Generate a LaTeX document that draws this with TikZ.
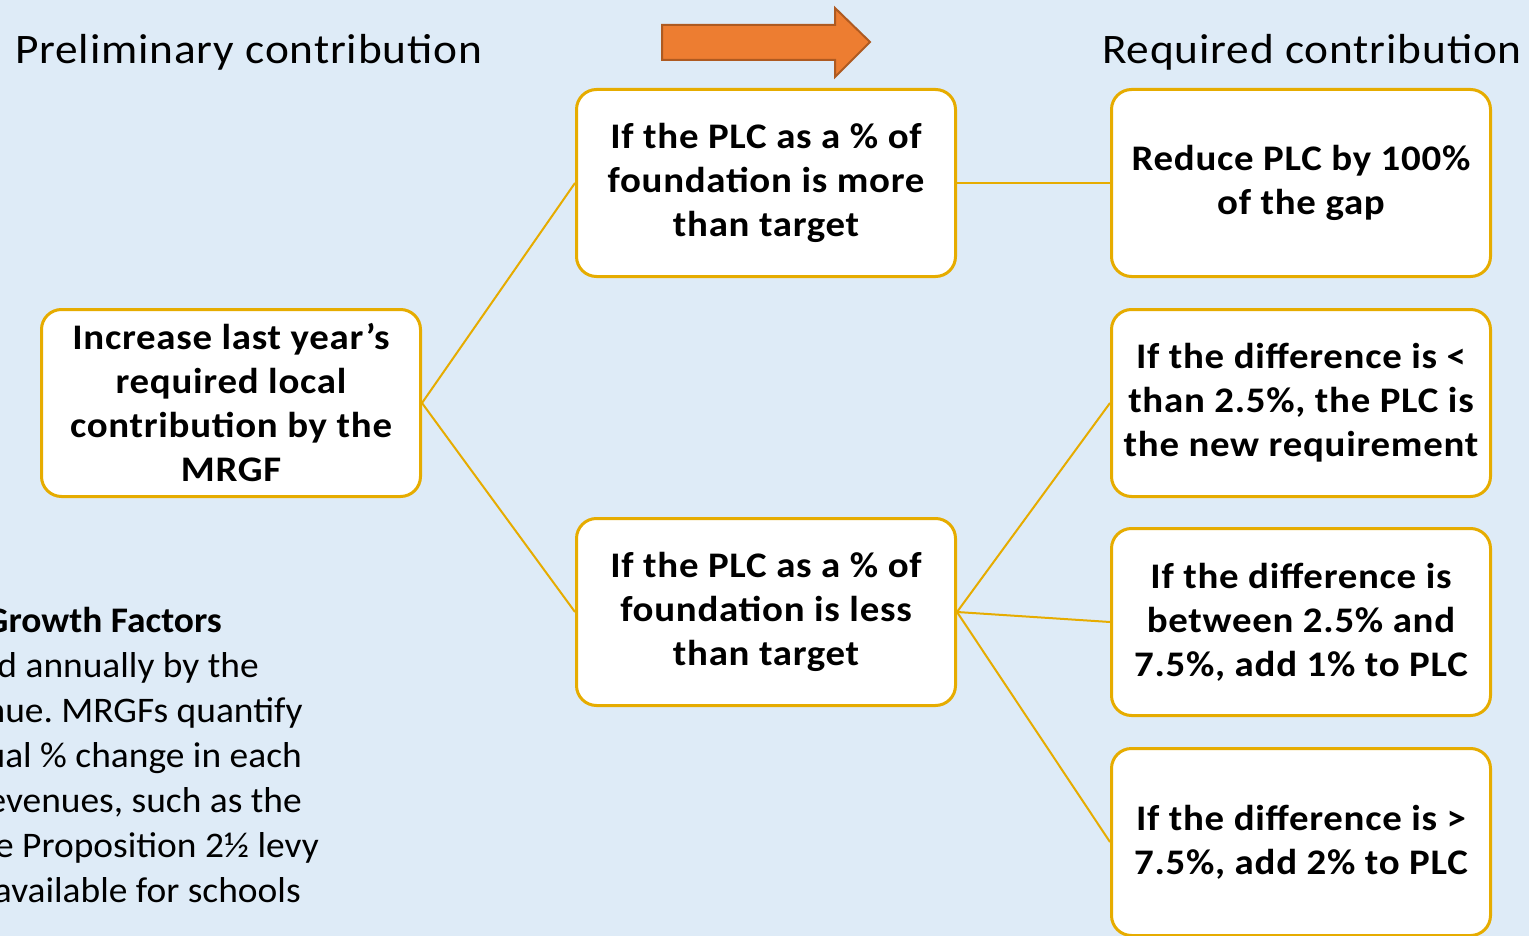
\documentclass[tikz,border=0pt]{standalone}
\usepackage{fontspec}
\setmainfont{Carlito}
\newfontfamily\widefont[FakeStretch=1.08, LetterSpace=2]{Carlito}
\newfontfamily\notefont[FakeStretch=1.04]{Carlito}
\usepackage{tikz}
\usetikzlibrary{positioning}
\frenchspacing

\definecolor{sky}{RGB}{222,235,247}
\definecolor{gold}{RGB}{230,172,0}
\definecolor{orangefill}{RGB}{237,125,49}
\definecolor{orangeline}{RGB}{174,90,33}

\tikzset{
	stepbox/.style={draw=gold, line width=3pt, rounded corners=20pt, fill=white,
		minimum width=379pt, minimum height=187pt, inner sep=0pt, align=center,
		font=\widefont\bfseries\fontsize{36}{44}\selectfont},
	link/.style={draw=gold, line width=2pt},
	heading/.style={inner sep=0pt, font=\widefont\fontsize{42}{50}\selectfont},
	note/.style={inner sep=0pt, font=\notefont\fontsize{36}{45}\selectfont}
}

\begin{document}
\begin{tikzpicture}[x=1pt,y=-1pt]
	\clip (0,0) rectangle (1529,936);
	\fill[sky] (0,0) rectangle (1529,936);

	\node[heading, anchor=west] (prelim) at (15,52) {Preliminary contribution};
	\node[heading, anchor=east] (required) at (1522,52) {Required contribution};

	% big arrow between the headings
	\draw[fill=orangefill, draw=orangeline, line width=2pt]
		(662,25) -- (835,25) -- (835,8) -- (870,42) -- (835,77) -- (835,60) -- (662,60) -- cycle;

	\node[stepbox] (a) at (231,403) {Increase last year’s\\required local\\contribution by the\\MRGF};
	\node[stepbox] (b1) [above right=30pt and 153pt of a] {If the PLC as a \% of\\foundation is more\\than target};
	\node[stepbox] (b2) [below right=19pt and 153pt of a] {If the PLC as a \% of\\foundation is less\\than target};

	\node[stepbox] (r1) [right=153pt of b1] {Reduce PLC by 100\%\\of the gap};
	\node[stepbox] (r2) [below=30pt of r1] {If the difference is <\\than 2.5\%, the PLC is\\the new requirement};
	\node[stepbox] (r3) [below=29pt of r2] {If the difference is\\between 2.5\% and\\7.5\%, add 1\% to PLC};
	\node[stepbox] (r4) [below=30pt of r3] {If the difference is >\\7.5\%, add 2\% to PLC};

	\draw[link] (a.east) -- (b1.west);
	\draw[link] (a.east) -- (b2.west);
	\draw[link] (b1.east) -- (r1.west);
	\foreach \r in {r2,r3,r4}
		\draw[link] (b2.east) -- (\r.west);

	% text running off the left edge
	\foreach \y/\x/\t in {620/222/{\textbf{Growth Factors}},
			665/259/{d annually by the},
			710/303/{nue. MRGFs quantify},
			755/302/{ual \% change in each},
			800/302/{evenues, such as the},
			845/319/{e Proposition 2½ levy},
			890/301/{available for schools}}
		\node[note, anchor=base east] (note\y) at (\x,\y+12) {\t};
\end{tikzpicture}
\end{document}
